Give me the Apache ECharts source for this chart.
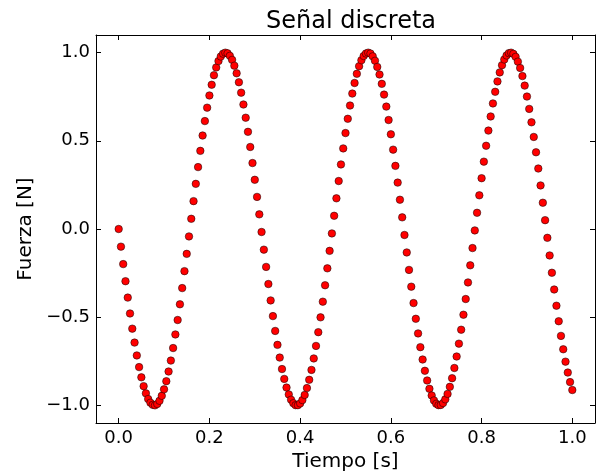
<!DOCTYPE html>
<html>
<head>
<meta charset="utf-8">
<script src="https://cdn.jsdelivr.net/npm/echarts@6/dist/echarts.min.js"></script>
<style>
  html, body { margin: 0; padding: 0; background: #fff; }
  #chart { width: 596px; height: 472px; }
</style>
</head>
<body>
<div id="chart"></div>
<script>
// Tiempo [s] sampled every 0.005 s
const tiempo = [
  0.000, 0.005, 0.010, 0.015, 0.020, 0.025, 0.030, 0.035, 0.040, 0.045,
  0.050, 0.055, 0.060, 0.065, 0.070, 0.075, 0.080, 0.085, 0.090, 0.095,
  0.100, 0.105, 0.110, 0.115, 0.120, 0.125, 0.130, 0.135, 0.140, 0.145,
  0.150, 0.155, 0.160, 0.165, 0.170, 0.175, 0.180, 0.185, 0.190, 0.195,
  0.200, 0.205, 0.210, 0.215, 0.220, 0.225, 0.230, 0.235, 0.240, 0.245,
  0.250, 0.255, 0.260, 0.265, 0.270, 0.275, 0.280, 0.285, 0.290, 0.295,
  0.300, 0.305, 0.310, 0.315, 0.320, 0.325, 0.330, 0.335, 0.340, 0.345,
  0.350, 0.355, 0.360, 0.365, 0.370, 0.375, 0.380, 0.385, 0.390, 0.395,
  0.400, 0.405, 0.410, 0.415, 0.420, 0.425, 0.430, 0.435, 0.440, 0.445,
  0.450, 0.455, 0.460, 0.465, 0.470, 0.475, 0.480, 0.485, 0.490, 0.495,
  0.500, 0.505, 0.510, 0.515, 0.520, 0.525, 0.530, 0.535, 0.540, 0.545,
  0.550, 0.555, 0.560, 0.565, 0.570, 0.575, 0.580, 0.585, 0.590, 0.595,
  0.600, 0.605, 0.610, 0.615, 0.620, 0.625, 0.630, 0.635, 0.640, 0.645,
  0.650, 0.655, 0.660, 0.665, 0.670, 0.675, 0.680, 0.685, 0.690, 0.695,
  0.700, 0.705, 0.710, 0.715, 0.720, 0.725, 0.730, 0.735, 0.740, 0.745,
  0.750, 0.755, 0.760, 0.765, 0.770, 0.775, 0.780, 0.785, 0.790, 0.795,
  0.800, 0.805, 0.810, 0.815, 0.820, 0.825, 0.830, 0.835, 0.840, 0.845,
  0.850, 0.855, 0.860, 0.865, 0.870, 0.875, 0.880, 0.885, 0.890, 0.895,
  0.900, 0.905, 0.910, 0.915, 0.920, 0.925, 0.930, 0.935, 0.940, 0.945,
  0.950, 0.955, 0.960, 0.965, 0.970, 0.975, 0.980, 0.985, 0.990, 0.995,
  1.000
]

// Fuerza [N], one per sample
const fuerza = [
   0.000, -0.100, -0.199, -0.296, -0.389, -0.479, -0.565, -0.644, -0.717, -0.783,
  -0.841, -0.891, -0.932, -0.964, -0.985, -0.997, -1.000, -0.992, -0.974, -0.946,
  -0.909, -0.863, -0.808, -0.746, -0.675, -0.598, -0.516, -0.427, -0.335, -0.239,
  -0.141, -0.042,  0.058,  0.158,  0.256,  0.351,  0.443,  0.530,  0.612,  0.688,
   0.757,  0.818,  0.872,  0.916,  0.952,  0.978,  0.994,  1.000,  0.996,  0.982,
   0.959,  0.926,  0.883,  0.832,  0.773,  0.706,  0.631,  0.551,  0.465,  0.374,
   0.279,  0.182,  0.083, -0.017, -0.117, -0.215, -0.312, -0.405, -0.494, -0.578,
  -0.657, -0.729, -0.794, -0.850, -0.899, -0.938, -0.968, -0.988, -0.999, -0.999,
  -0.989, -0.970, -0.941, -0.902, -0.855, -0.799, -0.734, -0.663, -0.585, -0.501,
  -0.412, -0.319, -0.223, -0.124, -0.025,  0.075,  0.174,  0.272,  0.366,  0.457,
   0.544,  0.625,  0.700,  0.768,  0.828,  0.880,  0.923,  0.957,  0.981,  0.995,
   1.000,  0.995,  0.979,  0.954,  0.919,  0.876,  0.823,  0.762,  0.694,  0.618,
   0.537,  0.450,  0.358,  0.263,  0.166,  0.066, -0.034, -0.133, -0.232, -0.327,
  -0.420, -0.509, -0.592, -0.670, -0.740, -0.804, -0.859, -0.906, -0.944, -0.972,
  -0.991, -0.999, -0.998, -0.987, -0.966, -0.935, -0.895, -0.846, -0.788, -0.723,
  -0.650, -0.571, -0.486, -0.397, -0.303, -0.206, -0.108, -0.008,  0.092,  0.191,
   0.288,  0.382,  0.472,  0.558,  0.638,  0.712,  0.778,  0.837,  0.888,  0.929,
   0.961,  0.984,  0.997,  1.000,  0.993,  0.976,  0.949,  0.913,  0.867,  0.813,
   0.751,  0.681,  0.605,  0.522,  0.435,  0.343,  0.247,  0.149,  0.050, -0.050,
  -0.150, -0.248, -0.343, -0.435, -0.523, -0.606, -0.682, -0.752, -0.814, -0.868,
  -0.913
]

const xTicks = [0, 0.2, 0.4, 0.6, 0.8, 1.0]
const yTicks = [-1.0, -0.5, 0.0, 0.5, 1.0]

const chart = echarts.init(document.getElementById('chart'), null, { renderer: 'canvas' })

const font = 'DejaVu Sans'
const fmt = v => (v < 0 ? '\u2212' : '') + Math.abs(v).toFixed(1)

const frame = { show: true, onZero: false, lineStyle: { color: '#000', width: 1 } }

const option = {
  backgroundColor: '#fff',
  animation: false,
  title: {
    text: 'Señal discreta',
    left: 346,
    top: 5,
    textAlign: 'center',
    textStyle: { fontFamily: font, fontSize: 24, fontWeight: 'normal', color: '#000' }
  },
  grid: { left: 96, top: 35, width: 499, height: 388, containLabel: false, outerBoundsMode: 'none' },
  xAxis: [
    {
      type: 'value', position: 'bottom', min: -0.05, max: 1.05,
      axisLine: frame,
      axisTick: { inside: true, length: 5, customValues: xTicks, lineStyle: { color: '#000' } },
      axisLabel: { customValues: xTicks, formatter: fmt, fontFamily: font, fontSize: 18, color: '#000', margin: 6 },
      splitLine: { show: false },
      name: 'Tiempo [s]', nameLocation: 'middle', nameGap: 27,
      nameTextStyle: { fontFamily: font, fontSize: 20, color: '#000' }
    },
    {
      type: 'value', position: 'top', min: -0.05, max: 1.05,
      axisLine: frame,
      axisTick: { inside: true, length: 5, customValues: xTicks, lineStyle: { color: '#000' } },
      axisLabel: { show: false },
      splitLine: { show: false }
    }
  ],
  yAxis: [
    {
      type: 'value', position: 'left', min: -1.1, max: 1.1,
      axisLine: frame,
      axisTick: { inside: true, length: 5, customValues: yTicks, lineStyle: { color: '#000' } },
      axisLabel: { customValues: yTicks, formatter: fmt, fontFamily: font, fontSize: 18, color: '#000', margin: 6 },
      splitLine: { show: false },
      name: 'Fuerza [N]', nameLocation: 'middle', nameGap: 48,
      nameTextStyle: { fontFamily: font, fontSize: 20, color: '#000' }
    },
    {
      type: 'value', position: 'right', min: -1.1, max: 1.1,
      axisLine: frame,
      axisTick: { inside: true, length: 5, customValues: yTicks, lineStyle: { color: '#000' } },
      axisLabel: { show: false },
      splitLine: { show: false }
    }
  ],
  series: [
    {
      name: 'Fuerza',
      type: 'scatter',
      xAxisIndex: 0,
      yAxisIndex: 0,
      symbol: 'circle',
      symbolSize: 7.5,
      itemStyle: { color: '#ff0000', opacity: 1, borderColor: '#000', borderWidth: 0.5 },
      data: tiempo.map((t, i) => [t, fuerza[i]])
    }
  ]
}

chart.setOption(option)
</script>
</body>
</html>
